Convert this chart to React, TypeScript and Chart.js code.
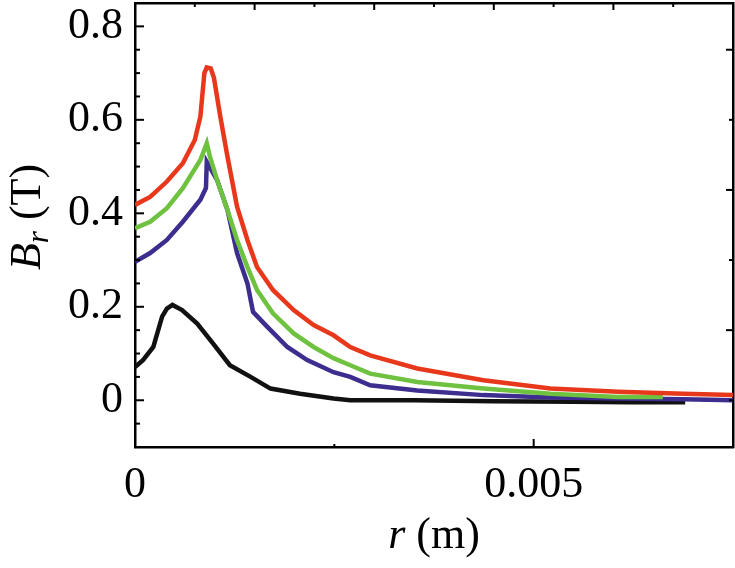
import React, { useEffect, useRef } from "react";
import { Chart, registerables } from "chart.js";

Chart.register(...registerables);

const SERIF = "'Liberation Serif', 'Times New Roman', serif";

// r (m) and B_r (T)
const redR = [0, 0.00019, 0.0004, 0.0006, 0.00075, 0.00082, 0.00087, 0.0009, 0.00095, 0.00099, 0.00107, 0.00116, 0.00128, 0.00141, 0.00153, 0.00173, 0.00199, 0.00224, 0.00249, 0.0027, 0.00295, 0.00354, 0.00437, 0.00521, 0.00606, 0.00688, 0.0075];
const redB = [0.418, 0.435, 0.468, 0.507, 0.557, 0.607, 0.7, 0.712, 0.71, 0.69, 0.607, 0.521, 0.414, 0.343, 0.285, 0.236, 0.193, 0.161, 0.139, 0.114, 0.096, 0.068, 0.043, 0.025, 0.018, 0.014, 0.011];

const greenR = [0, 0.00019, 0.0004, 0.0006, 0.00082, 0.0009, 0.00094, 0.00103, 0.00116, 0.00128, 0.00141, 0.00153, 0.00173, 0.00199, 0.00224, 0.00249, 0.0027, 0.00295, 0.00354, 0.00437, 0.00521, 0.00606, 0.00662];
const greenB = [0.368, 0.382, 0.411, 0.454, 0.514, 0.55, 0.521, 0.471, 0.407, 0.343, 0.285, 0.236, 0.186, 0.143, 0.114, 0.09, 0.075, 0.057, 0.039, 0.025, 0.014, 0.007, 0.007];

const blueR = [0, 0.00019, 0.0004, 0.0006, 0.00082, 0.00089, 0.0009, 0.00103, 0.00116, 0.00128, 0.00141, 0.00148, 0.00166, 0.00191, 0.00216, 0.00249, 0.0027, 0.00295, 0.00354, 0.00437, 0.00521, 0.00606, 0.00688, 0.0075];
const blueB = [0.296, 0.315, 0.343, 0.382, 0.429, 0.454, 0.51, 0.471, 0.407, 0.315, 0.25, 0.189, 0.157, 0.114, 0.086, 0.06, 0.05, 0.032, 0.021, 0.011, 0.006, 0.004, 0.002, 0];

const blackR = [0, 0.0001, 0.00023, 0.00034, 0.0004, 0.00047, 0.00059, 0.00078, 0.00098, 0.00119, 0.00145, 0.0017, 0.00207, 0.00249, 0.0027, 0.0035, 0.0045, 0.0055, 0.0062, 0.0069];
const blackB = [0.071, 0.086, 0.114, 0.179, 0.196, 0.204, 0.193, 0.164, 0.121, 0.075, 0.05, 0.025, 0.014, 0.004, 0, 0, -0.002, -0.003, -0.004, -0.004];

const xLabels = ["0", "0.005"];
const yLabels = ["0", "0.2", "0.4", "0.6", "0.8"];

const toPoints = (r: number[], b: number[]) => r.map((x, i) => ({ x, y: b[i] }));

const near = (v: number, step: number) => Math.abs(v / step - Math.round(v / step)) < 1e-6;

// tick marks drawn inside the frame, like the original
const innerTicks = {
    id: "innerTicks",
    afterDatasetsDraw(chart: any) {
        const { ctx, chartArea: a, scales } = chart;
        ctx.save();
        ctx.strokeStyle = "#000";
        ctx.lineWidth = 2;
        const mark = (id: string, isMajor: (v: number) => boolean, big: number, small: number) => {
            const s = scales[id];
            s.ticks.forEach((t: any) => {
                const p = s.getPixelForValue(t.value);
                const len = isMajor(t.value) ? big : small;
                if (s.isHorizontal()) {
                    if (p < a.left + 3 || p > a.right - 3) return;
                    const y0 = s.position === "top" ? a.top : a.bottom;
                    const dir = s.position === "top" ? 1 : -1;
                    ctx.beginPath();
                    ctx.moveTo(p, y0);
                    ctx.lineTo(p, y0 + dir * len);
                    ctx.stroke();
                } else {
                    if (p < a.top + 3 || p > a.bottom - 3) return;
                    const x0 = s.position === "left" ? a.left : a.right;
                    const dir = s.position === "left" ? 1 : -1;
                    ctx.beginPath();
                    ctx.moveTo(x0, p);
                    ctx.lineTo(x0 + dir * len, p);
                    ctx.stroke();
                }
            });
        };
        mark("x", (v) => near(v, 0.005), 8, 3);
        mark("x2", (v) => near(v, 0.0015), 7, 4);
        mark("y", (v) => near(v, 0.2), 9, 5);
        mark("y2", (v) => near(v - 0.15, 0.3), 7, 4);
        ctx.restore();
    },
};

const axisTitles = {
    id: "axisTitles",
    afterDraw(chart: any) {
        const { ctx, chartArea: a } = chart;
        const plain = `44px ${SERIF}`;
        const ital = `italic 44px ${SERIF}`;
        const sub = `italic 31px ${SERIF}`;
        const run = (parts: [string, string, number][], cx: number, cy: number) => {
            let w = 0;
            parts.forEach(([txt, font]) => {
                ctx.font = font;
                w += ctx.measureText(txt).width;
            });
            let x = cx - w / 2;
            parts.forEach(([txt, font, dy]) => {
                ctx.font = font;
                ctx.fillText(txt, x, cy + dy);
                x += ctx.measureText(txt).width;
            });
        };
        ctx.save();
        ctx.fillStyle = "#000";
        ctx.textBaseline = "alphabetic";
        run([["r", ital, 0], [" (m)", plain, 0]], (a.left + a.right) / 2, 548);
        ctx.translate(40, (a.top + a.bottom) / 2 - 8);
        ctx.rotate(-Math.PI / 2);
        run([["B", ital, 0], ["r", sub, 8], [" (T)", plain, 0]], 0, 0);
        ctx.restore();
    },
};

const fixBox = (w: number | null, h: number | null) => (s: any) => {
    if (w !== null) s.width = w;
    if (h !== null) s.height = h;
    s.paddingTop = 0;
    s.paddingBottom = 0;
    s.paddingLeft = 0;
    s.paddingRight = 0;
};

const App: React.FunctionComponent = () => {
    const chartRef = useRef<HTMLCanvasElement>(null);

    useEffect(() => {
        document.body.style.margin = "0";
        const ctx = chartRef.current!.getContext("2d") as CanvasRenderingContext2D;

        const line = (label: string, r: number[], b: number[], color: string) => ({
            label,
            data: toPoints(r, b),
            borderColor: color,
            backgroundColor: color,
            borderWidth: 4.5,
            pointRadius: 0,
            tension: 0,
            fill: false,
            xAxisID: "x",
            yAxisID: "y",
        });

        const edge = { display: true, color: "#000", width: 2.5 };
        const noGrid = { display: false, drawTicks: false };
        const tickFont = { family: SERIF, size: 44 };

        const chart = new Chart(ctx, {
            type: "line",
            data: {
                datasets: [
                    line("red", redR, redB, "#e8381c"),
                    line("green", greenR, greenB, "#6ec23f"),
                    line("blue", blueR, blueB, "#3c2d8f"),
                    line("black", blackR, blackB, "#111111"),
                ],
            },
            options: {
                animation: false,
                responsive: false,
                layout: { padding: 0 },
                plugins: { legend: { display: false }, tooltip: { enabled: false } },
                scales: {
                    x: {
                        type: "linear",
                        position: "bottom",
                        min: 0,
                        max: 0.0075,
                        grid: noGrid,
                        border: edge,
                        ticks: {
                            stepSize: 0.0025,
                            autoSkip: false,
                            maxRotation: 0,
                            padding: 12,
                            color: "#000",
                            font: tickFont,
                            callback: (v: any) => {
                                const hit = [0, 0.005].findIndex((t) => Math.abs(t - v) < 1e-9);
                                return hit >= 0 ? xLabels[hit] : "";
                            },
                        },
                        afterFit: fixBox(null, 121),
                    },
                    x2: {
                        type: "linear",
                        position: "top",
                        min: 0,
                        max: 0.0075,
                        grid: noGrid,
                        border: edge,
                        ticks: { display: false, stepSize: 0.00075 },
                        afterFit: fixBox(null, 3),
                    },
                    y: {
                        type: "linear",
                        position: "left",
                        min: -0.1,
                        max: 0.85,
                        grid: noGrid,
                        border: edge,
                        ticks: {
                            stepSize: 0.05,
                            autoSkip: false,
                            padding: 12,
                            color: "#000",
                            font: tickFont,
                            callback: (v: any) => {
                                const k = Math.round(v * 100);
                                if (Math.abs(v * 100 - k) > 1e-6 || k < 0 || k % 20 !== 0) return "";
                                return yLabels[k / 20] ?? "";
                            },
                        },
                        afterFit: fixBox(135, null),
                    },
                    y2: {
                        type: "linear",
                        position: "right",
                        min: -0.1,
                        max: 0.85,
                        grid: noGrid,
                        border: edge,
                        ticks: { display: false, stepSize: 0.15 },
                        afterFit: fixBox(2, null),
                    },
                },
            },
            plugins: [innerTicks, axisTitles],
        });

        return () => {
            chart.destroy();
        };
    }, []);

    return (
        <div style={{ width: 735, height: 568, background: "#fff" }}>
            <canvas ref={chartRef} width={735} height={568}></canvas>
        </div>
    );
};

export default App;
